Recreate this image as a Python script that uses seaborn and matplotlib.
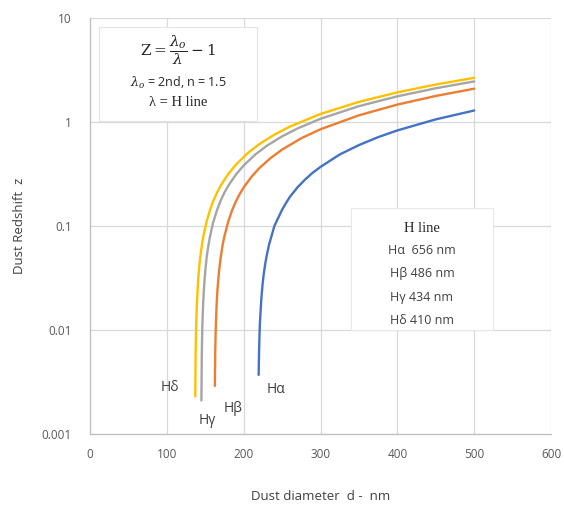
import matplotlib
matplotlib.use("Agg")
import matplotlib.pyplot as plt
import seaborn as sns
import pandas as pd

# Data (dust diameter d in nm, redshift z)
d_alpha = [219.5, 220, 220.5, 221, 222, 223, 224.5, 226, 228, 230, 233, 236, 240, 245, 250, 255, 260, 270, 280, 290, 300, 325, 350, 375, 400, 450, 500]
z_alpha = [0.0037, 0.006, 0.0084, 0.011, 0.015, 0.02, 0.027, 0.034, 0.043, 0.052, 0.066, 0.079, 0.1, 0.12, 0.143, 0.166, 0.19, 0.235, 0.28, 0.326, 0.37, 0.487, 0.6, 0.715, 0.83, 1.06, 1.29]

d_beta = [162.5, 163, 163.5, 164, 165, 166, 168, 170, 172.5, 175, 180, 185, 190, 195, 200, 210, 220, 235, 250, 275, 300, 350, 400, 450, 500]
z_beta = [0.0029, 0.0062, 0.0093, 0.0123, 0.019, 0.025, 0.037, 0.049, 0.065, 0.08, 0.111, 0.142, 0.173, 0.204, 0.235, 0.296, 0.358, 0.45, 0.543, 0.698, 0.852, 1.16, 1.47, 1.78, 2.09]

d_gamma = [145, 145.5, 146, 146.5, 147, 148, 149, 150.5, 152, 154, 156, 160, 165, 170, 175, 180, 190, 200, 215, 230, 250, 270, 300, 350, 400, 450, 500]
z_gamma = [0.0021, 0.0057, 0.0092, 0.0127, 0.016, 0.023, 0.03, 0.04, 0.051, 0.064, 0.078, 0.106, 0.14, 0.175, 0.21, 0.244, 0.313, 0.382, 0.486, 0.59, 0.728, 0.866, 1.074, 1.42, 1.765, 2.11, 2.456]

d_delta = [137, 137.5, 138, 138.5, 139, 140, 141, 142.5, 144, 146, 148, 152, 156, 160, 165, 170, 180, 190, 205, 220, 240, 260, 300, 350, 400, 450, 500]
z_delta = [0.0023, 0.0061, 0.0097, 0.0134, 0.017, 0.024, 0.032, 0.043, 0.054, 0.068, 0.083, 0.112, 0.141, 0.171, 0.207, 0.244, 0.317, 0.39, 0.5, 0.61, 0.756, 0.902, 1.195, 1.561, 1.927, 2.293, 2.658]

series_names = ["Hα", "Hβ", "Hγ", "Hδ"]
series_colors = ["#4472C4", "#ED7D31", "#A5A5A5", "#FFC000"]
legend_lines = ["Hα  656 nm", "Hβ 486 nm", "Hγ 434 nm", "Hδ 410 nm"]

x_ticks = [0, 100, 200, 300, 400, 500, 600]
y_ticks = [0.001, 0.01, 0.1, 1, 10]
y_tick_labels = ["0.001", "0.01", "0.1", "1", "10"]

frames = []
for name, dd, zz in zip(series_names, [d_alpha, d_beta, d_gamma, d_delta],
                        [z_alpha, z_beta, z_gamma, z_delta]):
    frames.append(pd.DataFrame({"d": dd, "z": zz, "line": name}))
df = pd.concat(frames, ignore_index=True)

sns.set_theme(style="white")
plt.rcParams["font.family"] = ["Open Sans", "DejaVu Sans"]
plt.rcParams["mathtext.fontset"] = "dejavuserif"

fig = plt.figure(figsize=(5.64, 5.08), dpi=100)
ax = fig.add_axes([90 / 564, 1 - 434 / 508, (551 - 90) / 564, (434 - 18) / 508])

sns.lineplot(data=df, x="d", y="z", hue="line", hue_order=series_names,
             palette=series_colors, sort=False, estimator=None, linewidth=1.7,
             legend=False, ax=ax)

ax.set_yscale("log")
ax.set_xlim(0, 600)
ax.set_ylim(0.001, 10)
ax.set_xticks(x_ticks)
ax.set_xticklabels([str(t) for t in x_ticks])
ax.set_yticks(y_ticks)
ax.set_yticklabels(y_tick_labels)
ax.yaxis.set_minor_locator(matplotlib.ticker.NullLocator())
ax.grid(True, which="major", color="#D9D9D9", linewidth=0.9)
ax.set_axisbelow(True)
for s in ["top", "right"]:
    ax.spines[s].set_visible(False)
for s in ["left", "bottom"]:
    ax.spines[s].set_color("#BFBFBF")
    ax.spines[s].set_linewidth(0.9)
ax.tick_params(axis="x", colors="#595959", labelsize=8.5, length=0, pad=10)
ax.tick_params(axis="y", colors="#595959", labelsize=8.5, length=0, pad=13)

ax.set_xlabel("Dust diameter  d -  nm", fontsize=9.5, color="#404040")
ax.xaxis.set_label_coords(0.5, (434 - 496) / 416)
ax.xaxis.label.set_va("center")
ax.set_ylabel("Dust Redshift  z", fontsize=9.5, color="#404040")
ax.yaxis.set_label_coords((20 - 90) / 461, 0.5)
ax.yaxis.label.set_va("center")

# Curve labels
lbl_pos = {"Hδ": (104, 0.00277), "Hγ": (152, 0.00136), "Hβ": (186, 0.00174), "Hα": (242, 0.00265)}
for name in series_names:
    x, y = lbl_pos[name]
    ax.text(x, y, name, fontsize=10, color="#404040", ha="center", va="center")

# Formula box
ax.add_patch(matplotlib.patches.Rectangle((99 / 564, 1 - 121 / 508), (257 - 99) / 564, (121 - 27) / 508,
             transform=fig.transFigure, facecolor="white", edgecolor="#E4E4E4",
             linewidth=0.8, zorder=5, clip_on=False))
fig.text(178 / 564, 1 - 50 / 508, r"$\mathrm{Z} = \dfrac{\lambda_o}{\lambda} - 1$",
         ha="center", va="center", fontsize=11, color="#262626", zorder=6)
fig.text(178 / 564, 1 - 83 / 508, r"$\lambda_o$ = 2nd, n = 1.5",
         ha="center", va="center", fontsize=9, color="#262626", zorder=6)
fig.text(178 / 564, 1 - 102 / 508, "λ = H line", family=["Liberation Serif", "DejaVu Serif"],
         ha="center", va="center", fontsize=10.5, color="#262626", zorder=6)

# Legend-like box
ax.add_patch(matplotlib.patches.Rectangle((351 / 564, 1 - 330 / 508), (493 - 351) / 564, (330 - 208) / 508,
             transform=fig.transFigure, facecolor="white", edgecolor="#E8E8E8",
             linewidth=0.8, zorder=5, clip_on=False))
fig.text(422 / 564, 1 - 228 / 508, "H line", family=["Liberation Serif", "DejaVu Serif"],
         ha="center", va="center", fontsize=10.5, color="#262626", zorder=6)
for i, t in enumerate(legend_lines):
    fig.text(422 / 564, 1 - (251 + i * 23) / 508, t, ha="center", va="center",
             fontsize=9, color="#404040", zorder=6)

fig.savefig("out.png", dpi=100)
